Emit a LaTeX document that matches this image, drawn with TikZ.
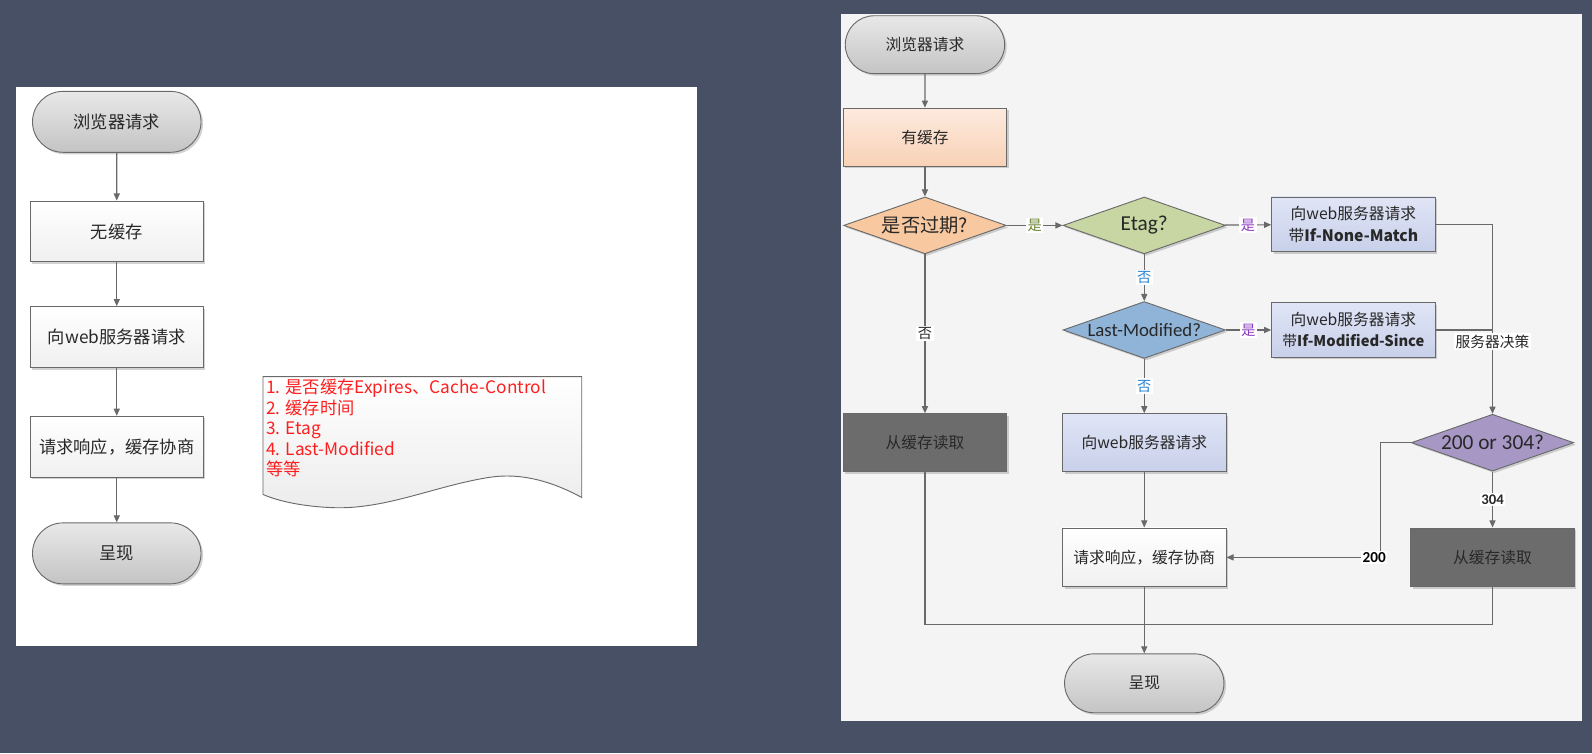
\documentclass[tikz,border=0pt]{standalone}
\usepackage{fontspec}
\setmainfont{Noto Sans CJK SC}
\newfontfamily\calfont{Carlito}
\usepackage{tikz}
\usetikzlibrary{arrows.meta,shapes,positioning,shadows}
\definecolor{slate}{RGB}{72,80,101}
\definecolor{panel}{RGB}{244,244,244}
\definecolor{lineg}{RGB}{105,105,105}
\definecolor{txt}{RGB}{40,40,40}
\definecolor{termtop}{RGB}{232,232,232}
\definecolor{termbot}{RGB}{196,196,196}
\definecolor{peachtop}{RGB}{253,234,222}
\definecolor{peachbot}{RGB}{248,210,182}
\definecolor{orangeq}{RGB}{248,200,160}
\definecolor{greenq}{RGB}{200,214,163}
\definecolor{blueq}{RGB}{143,180,216}
\definecolor{purpleq}{RGB}{167,151,196}
\definecolor{lavtop}{RGB}{224,229,246}
\definecolor{lavbot}{RGB}{200,208,234}
\definecolor{darkbox}{RGB}{108,108,108}
\definecolor{yesgreen}{RGB}{105,130,50}
\definecolor{yespurple}{RGB}{140,60,190}
\definecolor{noblue}{RGB}{40,130,210}
\definecolor{notered}{RGB}{255,30,30}
\newcommand{\leftsz}{\fontsize{17}{20}\selectfont}
\newcommand{\rightsz}{\fontsize{15.5}{21}\selectfont}
\tikzstyle{arrow} = [line width=1.1pt,->,>={Stealth[length=7pt,width=6pt,inset=0pt]},color=lineg]
\tikzstyle{wire} = [line width=1.1pt,color=lineg]
\tikzstyle{base} = [draw=lineg, line width=0.9pt, text=txt, inner sep=2pt, drop shadow={shadow xshift=2pt,shadow yshift=-2pt,opacity=0.35}]
\tikzstyle{term} = [base, rounded rectangle, top color=termtop, bottom color=termbot]
\tikzstyle{proc} = [base, rectangle, top color=white, bottom color=gray!12]
\tikzstyle{decide} = [base, diamond, minimum width=160pt, minimum height=56pt, inner sep=0pt]
\tikzstyle{lsize} = [minimum width=170pt, minimum height=60pt, font=\leftsz]
\tikzstyle{rsize} = [minimum width=161pt, minimum height=57pt, font=\rightsz]
\tikzstyle{tag} = [fill=white, inner sep=1.5pt, font=\fontsize{14}{14}\selectfont]

\begin{document}
\begin{tikzpicture}[x=1pt, y=-1pt]
\useasboundingbox (0,0) rectangle (1568,742);
\fill[slate] (0,0) rectangle (1568,742);

% Left panel
\fill[white] (16,86) rectangle (686,636);
\node[term, lsize] (lstart) at (115,120) {浏览器请求};
\node[proc, lsize] (lnocache) at (115,228) {无缓存};
\node[proc, lsize] (lreq) at (115,332) {向web服务器请求};
\node[proc, lsize] (lresp) at (115,440) {请求响应，缓存协商};
\node[term, lsize] (lshow) at (115,545) {呈现};

\draw[arrow] (lstart) -- (lnocache);
\draw[arrow] (lnocache) -- (lreq);
\draw[arrow] (lreq) -- (lresp);
\draw[arrow] (lresp) -- (lshow);

% Note
\draw[draw=lineg, line width=0.9pt, top color=white, bottom color=gray!15]
  (259,371) -- (573,371) -- (573,490)
  .. controls (540,472) and (510,466) .. (483,470)
  .. controls (430,478) and (380,502) .. (328,500)
  .. controls (300,499) and (275,494) .. (259,487) -- cycle;
\node[anchor=north west, align=left, text=notered, inner sep=0pt,
  font=\fontsize{17}{20.3}\selectfont] (notes) at (262,373)
  {1. 是否缓存Expires、Cache-Control\\2. 缓存时间\\3. Etag\\4. Last-Modified\\等等};

% Right panel
\fill[panel] (828,14) rectangle (1558,710);
\node[term, rsize] (rstart) at (911,44) {浏览器请求};
\node[base, rsize, top color=peachtop, bottom color=peachbot] (rcache) at (911,135) {有缓存};
\node[decide, fill=orangeq, label={[font=\fontsize{19}{19}\selectfont, text=txt]center:是否过期?}] (expired) at (911,222) {};
\node[decide, fill=greenq, label={[font=\calfont\fontsize{21}{21}\selectfont, text=txt]center:Etag?}] (etag) at (1127,222) {};
\node[base, rsize, minimum height=54pt, align=center, top color=lavtop, bottom color=lavbot] (inm) at (1333,221) {向web服务器请求\\带\textbf{If-None-Match}};
\node[decide, fill=blueq, label={[font=\calfont\fontsize{18.5}{18.5}\selectfont, text=txt]center:Last-Modified?}] (lastmod) at (1127,325) {};
\node[base, rsize, minimum height=54pt, align=center, top color=lavtop, bottom color=lavbot] (ims) at (1333,325) {向web服务器请求\\{\fontsize{14.5}{21}\selectfont 带\textbf{If-Modified-Since}}};
\node[decide, fill=purpleq, label={[font=\calfont\fontsize{21}{21}\selectfont, text=txt]center:200 or 304?}] (code) at (1470,436) {};
\node[base, rsize, fill=darkbox] (hitl) at (911,436) {从缓存读取};
\node[base, rsize, top color=lavtop, bottom color=lavbot] (req) at (1127,436) {向web服务器请求};
\node[proc, rsize, minimum height=58pt] (resp) at (1127,549) {请求响应，缓存协商};
\node[base, rsize, minimum height=58pt, fill=darkbox] (hitr) at (1470,549) {从缓存读取};
\node[term, rsize, minimum height=58pt] (show) at (1127,673) {呈现};
\coordinate (join) at (1127,615);

\draw[arrow] (rstart) -- (rcache);
\draw[arrow] (rcache) -- (expired);
\draw[arrow] (expired) -- node[tag, text=yesgreen] {是} (etag);
\draw[arrow] (etag) -- node[tag, text=yespurple] {是} (inm);
\draw[arrow] (etag) -- node[tag, text=noblue] {否} (lastmod);
\draw[arrow] (lastmod) -- node[tag, text=yespurple] {是} (ims);
\draw[arrow] (lastmod) -- node[tag, text=noblue] {否} (req);
\draw[arrow] (expired) -- node[tag, text=txt] {否} (hitl);
\draw[wire] (ims.east) -- (ims.east -| code.north);
\draw[arrow] (inm.east) -| node[tag, text=txt, pos=0.81, font=\fontsize{14.5}{14.5}\selectfont] {服务器决策} (code.north);
\draw[arrow] (code) -- node[tag, text=txt, font=\calfont\bfseries\fontsize{14.5}{14.5}\selectfont] {304} (hitr);
\draw[arrow] (code.west) -- ++(-30,0) |- node[tag, text=black, pos=0.52, font=\calfont\bfseries\fontsize{15}{15}\selectfont] {200} (resp.east);
\draw[arrow] (req) -- (resp);
\draw[arrow] (resp) -- (show);
\draw[wire] (hitl.south) |- (join) -| (hitr.south);
\end{tikzpicture}
\end{document}
